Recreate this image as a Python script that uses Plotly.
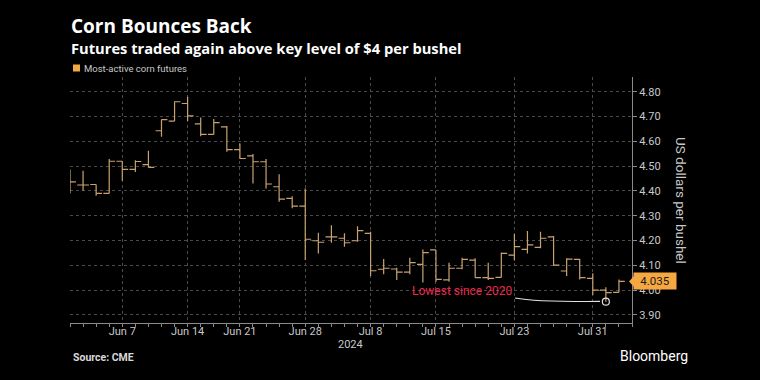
import plotly.graph_objects as go

dates = ["2024-06-03", "2024-06-04", "2024-06-05", "2024-06-06", "2024-06-07",
         "2024-06-10", "2024-06-11", "2024-06-12", "2024-06-13", "2024-06-14",
         "2024-06-17", "2024-06-18", "2024-06-20", "2024-06-21",
         "2024-06-24", "2024-06-25", "2024-06-26", "2024-06-27", "2024-06-28",
         "2024-07-01", "2024-07-02", "2024-07-03", "2024-07-05",
         "2024-07-08", "2024-07-09", "2024-07-10", "2024-07-11", "2024-07-12",
         "2024-07-15", "2024-07-16", "2024-07-17", "2024-07-18", "2024-07-19",
         "2024-07-22", "2024-07-23", "2024-07-24", "2024-07-25", "2024-07-26",
         "2024-07-29", "2024-07-30", "2024-07-31", "2024-08-01", "2024-08-02"]

opens = [4.460, 4.424, 4.426, 4.390, 4.520, 4.487, 4.506, 4.643, 4.682, 4.753,
         4.671, 4.628, 4.659, 4.567, 4.542, 4.518, 4.417, 4.370, 4.339,
         4.199, 4.215, 4.209, 4.199, 4.229, 4.084, 4.085, 4.072, 4.104,
         4.162, 4.041, 4.088, 4.121, 4.050, 4.051, 4.141, 4.164, 4.172, 4.215,
         4.077, 4.124, 4.047, 4.000, 3.991]
highs = [4.487, 4.482, 4.426, 4.529, 4.520, 4.524, 4.562, 4.688, 4.762, 4.780,
         4.697, 4.690, 4.662, 4.592, 4.549, 4.529, 4.467, 4.379, 4.410,
         4.231, 4.262, 4.229, 4.258, 4.235, 4.125, 4.090, 4.130, 4.164,
         4.162, 4.110, 4.130, 4.128, 4.110, 4.152, 4.226, 4.238, 4.235, 4.218,
         4.128, 4.125, 4.068, 4.011, 4.043]
lows = [4.390, 4.401, 4.381, 4.390, 4.441, 4.477, 4.495, 4.619, 4.682, 4.682,
        4.621, 4.628, 4.558, 4.529, 4.430, 4.410, 4.356, 4.330, 4.121,
        4.148, 4.191, 4.175, 4.195, 4.057, 4.064, 4.041, 4.064, 4.030,
        4.034, 4.034, 4.084, 4.050, 4.041, 4.051, 4.119, 4.148, 4.169, 4.097,
        4.057, 4.043, 3.980, 3.953, 3.991]
closes = [4.437, 4.424, 4.390, 4.520, 4.487, 4.519, 4.495, 4.688, 4.760, 4.703,
          4.628, 4.676, 4.567, 4.531, 4.518, 4.428, 4.367, 4.339, 4.205,
          4.193, 4.215, 4.191, 4.240, 4.078, 4.088, 4.072, 4.111, 4.151,
          4.043, 4.088, 4.124, 4.050, 4.047, 4.148, 4.175, 4.182, 4.209, 4.101,
          4.125, 4.050, 4.000, 3.990, 4.035]

tick_dates = ["2024-06-07", "2024-06-14", "2024-06-21", "2024-06-28",
              "2024-07-08", "2024-07-15", "2024-07-23", "2024-07-31"]
tick_labels = ["Jun 7", "Jun 14", "Jun 21", "Jun 28", "Jul 8", "Jul 15", "Jul 23", "Jul 31"]
y_ticks = [3.90, 4.00, 4.10, 4.20, 4.30, 4.40, 4.50, 4.60, 4.70, 4.80]

BAR = "#c9a36f"
ORANGE = "#f5a742"
GRID = "#4a4a4a"
TXT = "#c8c8c8"
FONT = "Roboto, 'Liberation Sans', sans-serif"
TFONT = "'Open Sans', Roboto, sans-serif"

# plot area in pixels
L, R, T, B = 70, 632, 77, 323
W, H = 760, 380
def px(x):
    return (x - L) / (R - L)
def py(y):
    return (B - y) / (B - T)

xi = list(range(len(dates)))
tick_idx = [dates.index(d) for d in tick_dates]

fig = go.Figure()
fig.add_trace(go.Ohlc(
    x=xi, open=opens, high=highs, low=lows, close=closes,
    increasing=dict(line=dict(color=BAR, width=1.2)),
    decreasing=dict(line=dict(color=BAR, width=1.2)),
    tickwidth=0.45, showlegend=False, hoverinfo="skip"))

# low point marker
low_i = lows.index(min(lows))
fig.add_trace(go.Scatter(
    x=[xi[low_i]], y=[lows[low_i]], mode="markers", showlegend=False,
    marker=dict(symbol="circle-open", color="#e0e0e0", size=7, line=dict(width=1.2)),
    hoverinfo="skip"))

# curved connector from label to the low
x0, y0 = 34.05, 3.968
x1, y1 = xi[low_i] - 0.45, lows[low_i] + 0.001
shapes = [
    dict(type="path", xref="x", yref="y",
         path=f"M {x0},{y0} Q {x0 + 1.6},{y1 - 0.002} {x1},{y1}",
         line=dict(color="#e0e0e0", width=1.2)),
]

last = closes[-1]
# pointer for the last-price label
shapes.append(dict(type="path", xref="paper", yref="y",
                   path=f"M {px(634)},{last + 0.022} L {px(629)},{last} L {px(634)},{last - 0.022} Z",
                   fillcolor=ORANGE, line=dict(width=0)))
# legend swatch
shapes.append(dict(type="rect", xref="paper", yref="paper",
                   x0=px(73), x1=px(80), y0=py(71.5), y1=py(64.5),
                   fillcolor=ORANGE, line=dict(width=0)))

annotations = [
    dict(x=34.0, y=3.996, xref="x", yref="y", xanchor="right", yanchor="middle",
         text="Lowest since 2020", showarrow=False,
         font=dict(family=FONT, size=12, color="#e8294f")),
    dict(x=px(633), y=last, xref="paper", yref="y", xanchor="left", yanchor="middle",
         text=f"{last:.3f}", showarrow=False, bgcolor=ORANGE,
         font=dict(family=FONT, size=11.5, color="#1a1a1a"), borderpad=1, width=40),
    dict(x=px(681), y=py(200), xref="paper", yref="paper", text="US dollars per bushel",
         textangle=90, showarrow=False, xanchor="center", yanchor="middle",
         font=dict(family=FONT, size=13.5, color=TXT)),
    dict(x=px(350), y=py(344), xref="paper", yref="paper", text="2024",
         showarrow=False, xanchor="center", yanchor="middle",
         font=dict(family=FONT, size=11, color=TXT)),
    dict(x=px(82), y=py(68), xref="paper", yref="paper", xanchor="left", yanchor="middle",
         text="Most-active corn futures", showarrow=False,
         font=dict(family=FONT, size=9.5, color=TXT)),
    dict(x=px(69), y=py(26), xref="paper", yref="paper", xanchor="left", yanchor="middle",
         text="<b>Corn Bounces Back</b>", showarrow=False,
         font=dict(family=TFONT, size=19, color="white")),
    dict(x=px(69), y=py(48), xref="paper", yref="paper", xanchor="left", yanchor="middle",
         text="<b>Futures traded again above key level of $4 per bushel</b>", showarrow=False,
         font=dict(family=TFONT, size=14.7, color="white")),
    dict(x=px(71), y=py(357), xref="paper", yref="paper", xanchor="left", yanchor="middle",
         text="<b>Source: CME</b>", showarrow=False,
         font=dict(family=FONT, size=10.5, color="#d8d8d8")),
    dict(x=px(690), y=py(356), xref="paper", yref="paper", xanchor="right", yanchor="middle",
         text="Bloomberg", showarrow=False,
         font=dict(family=FONT, size=14, color="white")),
]

fig.update_layout(
    width=W, height=H,
    paper_bgcolor="black", plot_bgcolor="black",
    margin=dict(l=L, r=W - R, t=T, b=H - B),
    font=dict(family=FONT, color=TXT, size=11),
    showlegend=False,
    xaxis=dict(range=[0, 43.0], tickmode="array", tickvals=tick_idx, ticktext=tick_labels,
               showgrid=True, gridcolor=GRID, griddash="dot", gridwidth=1,
               showline=True, linecolor="#8a8a8a", linewidth=1,
               ticks="", ticklabelstandoff=-2,
               minor=dict(dtick=1, ticks="outside", ticklen=3, tickcolor="#8a8a8a", showgrid=False),
               tickfont=dict(size=11, color=TXT), zeroline=False,
               rangeslider=dict(visible=False), fixedrange=True),
    yaxis=dict(side="right", range=[3.867, 4.86], tickvals=y_ticks,
               ticktext=[f"{v:.2f}" for v in y_ticks],
               showgrid=True, gridcolor=GRID, griddash="dot", gridwidth=1,
               showline=True, linecolor="#8a8a8a", linewidth=1,
               ticks="outside", ticklen=4, tickcolor="#8a8a8a",
               tickfont=dict(size=11, color=TXT), zeroline=False, fixedrange=True),
    shapes=shapes,
    annotations=annotations,
)

fig.write_html("out.html", config={"displayModeBar": False},
               post_script="document.body.style.margin='0';document.body.style.background='black';")
